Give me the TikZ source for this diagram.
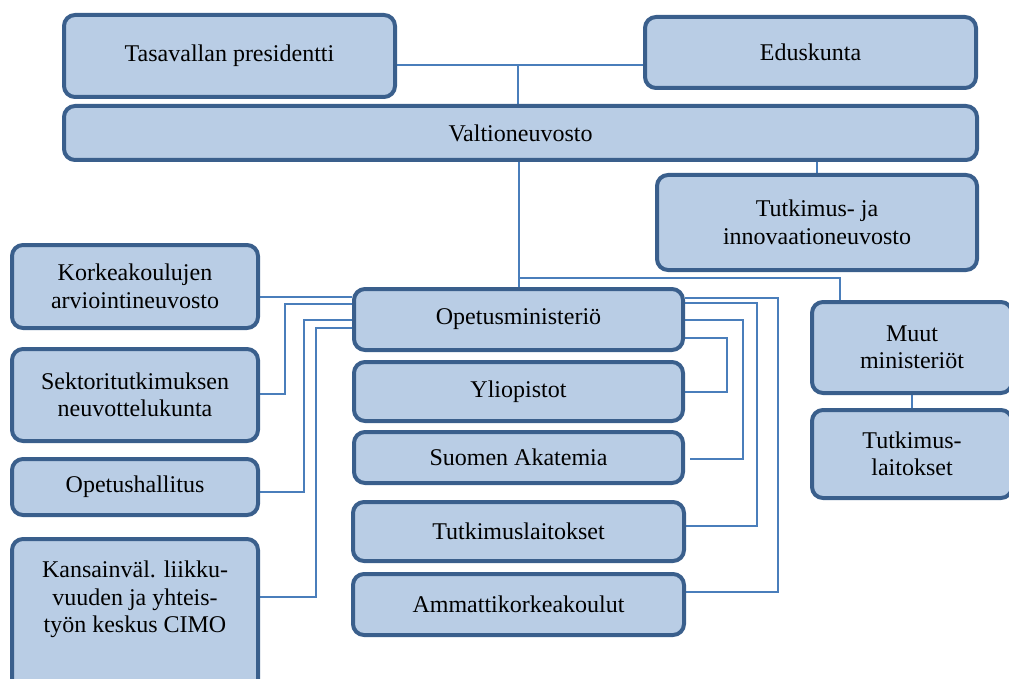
\documentclass[tikz,border=0pt]{standalone}
\usepackage{fontspec}
\setmainfont{Liberation Serif}
\usetikzlibrary{backgrounds}
\definecolor{boxfill}{HTML}{B9CDE5}
\definecolor{boxline}{HTML}{3A5F8C}
\definecolor{conn}{HTML}{4A7EBB}
\tikzset{
  box/.style={draw=boxline, fill=boxfill, line width=4pt, rounded corners=11pt,
    align=center, inner sep=0pt, font=\fontsize{24}{27.5}\selectfont},
  txt/.style={align=center, inner sep=0pt, font=\fontsize{24}{27.5}\selectfont},
  link/.style={draw=conn, line width=1.5pt}
}
\begin{document}
\begin{tikzpicture}[x=1pt,y=-1pt]
\useasboundingbox (0,0) rectangle (1009,679);
\clip (0,0) rectangle (1009,679);
% top level
\node[box, minimum width=331pt, minimum height=82pt] (pres) at (229.5,56) {Tasavallan presidentti};
\node[box, minimum width=331pt, minimum height=71pt] (edus) at (810.5,52.5) {Eduskunta};
\node[box, minimum width=913pt, minimum height=54pt] (valt) at (520.5,133) {Valtioneuvosto};
\node[box, minimum width=320pt, minimum height=95pt] (tin) at (817,222.5) {Tutkimus- ja\\innovaationeuvosto};
% left column
\node[box, minimum width=246pt, minimum height=83pt] (kor) at (135,286.5) {Korkeakoulujen\\arviointineuvosto};
\node[box, minimum width=246pt, minimum height=92pt] (sek) at (135,395) {Sektoritutkimuksen\\neuvottelukunta};
\node[box, minimum width=246pt, minimum height=56pt] (oph) at (135,487) {Opetushallitus};
\node[box, minimum width=246pt, minimum height=175pt, anchor=north] (cimo) at (135,537) {};
\node[txt] (cimotxt) at (135,599.5) {Kansainväl. liikku-\\vuuden ja yhteis-\\työn keskus CIMO};
% middle column
\node[box, minimum width=329pt, minimum height=61pt] (om) at (518.5,319.5) {Opetusministeriö};
\node[box, minimum width=329pt, minimum height=59pt] (yli) at (518.5,391.5) {Yliopistot};
\node[box, minimum width=329pt, minimum height=51pt] (sa) at (518.5,457.5) {Suomen Akatemia};
\node[box, minimum width=331pt, minimum height=59pt] (tl) at (518.5,531.5) {Tutkimuslaitokset};
\node[box, minimum width=331pt, minimum height=61pt] (amk) at (518.5,604.5) {Ammattikorkeakoulut};
% right column
\node[box, minimum width=200pt, minimum height=91pt] (muut) at (912,347.5) {Muut\\ministeriöt};
\node[box, minimum width=200pt, minimum height=88pt] (rtl) at (912,454) {Tutkimus-\\laitokset};
% connectors
\coordinate (top) at (518,65);
\coordinate (jn) at (519,278);
\coordinate (mt) at (840,302);
\coordinate (saend) at (690,459);
\begin{scope}[on background layer]
\draw[link] (pres.east |- top) -- (edus.west |- top);
\draw[link] (top) -- (valt.north -| top);
\draw[link] (valt.south -| tin.north) -- (tin.north);
\draw[link] (valt.south -| jn) -- (om.north -| jn);
\draw[link] (jn) -| (mt);
\draw[link] (muut.south) -- (rtl.north);
% left side
\draw[link] (om.west |- 0,297) -- (kor.east |- 0,297);
\draw[link] (om.west |- 0,304) -| (285,394) -- (sek.east |- 0,394);
\draw[link] (om.west |- 0,320) -| (304,492) -- (oph.east |- 0,492);
\draw[link] (om.west |- 0,328) -| (316,597) -- (cimo.east |- 0,597);
% right side
\draw[link] (om.east |- 0,298) -| (778,592) -- (amk.east |- 0,592);
\draw[link] (om.east |- 0,303) -| (757,526) -- (tl.east |- 0,526);
\draw[link] (om.east |- 0,320) -| (743,459) -- (saend);
\draw[link] (om.east |- 0,338) -| (727,392) -- (yli.east |- 0,392);
\end{scope}
\end{tikzpicture}
\end{document}
